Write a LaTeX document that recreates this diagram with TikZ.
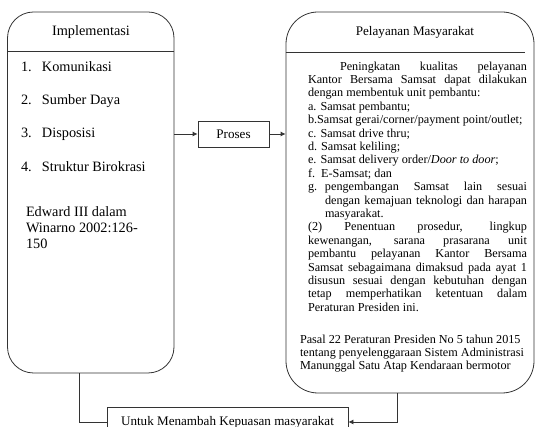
\documentclass[tikz,border=0pt]{standalone}
\usepackage{fontspec}
\setmainfont{Liberation Serif}
\usetikzlibrary{positioning,arrows.meta}

\newcommand{\implfont}{\fontsize{14.3}{16}\selectfont}
\newcommand{\pelfont}{\fontsize{12.2}{13.4}\selectfont}
\newcommand{\midfont}{\fontsize{13.1}{15}\selectfont}
\newcommand{\jline}[2]{\makebox[#1][s]{#2}}

\tikzstyle{arrow} = [line width=0.8pt,draw=black!80,-{Latex[length=5pt,width=5pt]}]
\tikzstyle{line} = [line width=0.8pt,draw=black!80]
\tikzstyle{bigbox} = [draw=black!80,line width=0.8pt,inner sep=0pt]
\tikzstyle{txt} = [inner sep=0pt,outer sep=0pt]

\begin{document}
\begin{tikzpicture}[x=1pt,y=-1pt]
\useasboundingbox (0,0) rectangle (536,427);

% boxes
\node (impl) [bigbox, rounded corners=26pt, minimum width=166.5pt, minimum height=361pt] at (90.75,192.5) {};
\node (pelayanan) [bigbox, rounded corners=32pt, minimum width=248pt, minimum height=381pt] at (410,202.5) {};
\node (proses) [bigbox, minimum width=71pt, minimum height=26pt, font=\midfont] at (233.5,134) {Proses};
\node (untuk) [bigbox, minimum width=241pt, minimum height=30pt, font=\midfont] at (227.5,422) {Untuk Menambah Kepuasan masyarakat};

% header lines
\draw [line] ([yshift=-40pt]impl.north west) -- ([yshift=-40pt]impl.north east);
\draw [line] ([yshift=-41pt]pelayanan.north west) -- ([yshift=-41pt,xshift=-9pt]pelayanan.north east);

% headers
\node (impltitle) [txt, font=\implfont] at (91,32.5) {Implementasi};
\node (peltitle) [txt, font=\midfont] at (415,32.5) {Pelayanan Masyarakat};

% left box
\node (k1) [txt, anchor=base west, font=\implfont] at (21,71.5) {\makebox[21pt][l]{1.}Komunikasi};
\node (k2) [txt, anchor=base west, font=\implfont] at (21,104.5) {\makebox[21pt][l]{2.}Sumber Daya};
\node (k3) [txt, anchor=base west, font=\implfont] at (21,137.5) {\makebox[21pt][l]{3.}Disposisi};
\node (k4) [txt, anchor=base west, font=\implfont] at (21,171.5) {\makebox[21pt][l]{4.}Struktur Birokrasi};
\node (edward) [txt, anchor=north west, font=\implfont, align=left] at (26,206.2) {Edward III dalam\\ Winarno 2002:126-\\ 150};

% right box
\node (isi) [txt, anchor=north west, font=\pelfont, align=left] at (308,61.7) {%
\jline{219pt}{\hspace*{32pt}Peningkatan kualitas pelayanan}\\
\jline{219pt}{Kantor Bersama Samsat dapat dilakukan}\\
dengan membentuk unit pembantu:\\
a. Samsat pembantu;\\
b.Samsat gerai/corner/payment point/outlet;\\
c. Samsat drive thru;\\
d. Samsat keliling;\\
e. Samsat delivery order/\textit{Door to door};\\
f.\ \ E-Samsat; dan\\
\makebox[17pt][l]{g.}\jline{202pt}{pengembangan Samsat lain sesuai}\\
\hspace*{17pt}\jline{202pt}{dengan kemajuan teknologi dan harapan}\\
\hspace*{17pt}masyarakat.\\
\jline{219pt}{(2) Penentuan prosedur, lingkup}\\
\jline{219pt}{kewenangan, sarana prasarana unit}\\
\jline{219pt}{pembantu pelayanan Kantor Bersama}\\
\jline{219pt}{Samsat sebagaimana dimaksud pada ayat 1}\\
\jline{219pt}{disusun sesuai dengan kebutuhan dengan}\\
\jline{219pt}{tetap memperhatikan ketentuan dalam}\\
Peraturan Presiden ini.};
\node (pasal) [txt, anchor=north west, font=\pelfont, align=left] at (300,334.7) {Pasal 22 Peraturan Presiden No 5 tahun 2015\\ tentang penyelenggaraan Sistem Administrasi\\ Manunggal Satu Atap Kendaraan bermotor};

% connectors
\draw [arrow] (impl.east |- proses.west) -- (proses.west);
\draw [arrow] (proses.east) -- (proses.east -| pelayanan.west);
\draw [arrow] ([xshift=-13pt]pelayanan.south) |- (untuk.east);
\draw [line] ([xshift=-11.75pt]impl.south) |- (untuk.west);

\end{tikzpicture}
\end{document}
